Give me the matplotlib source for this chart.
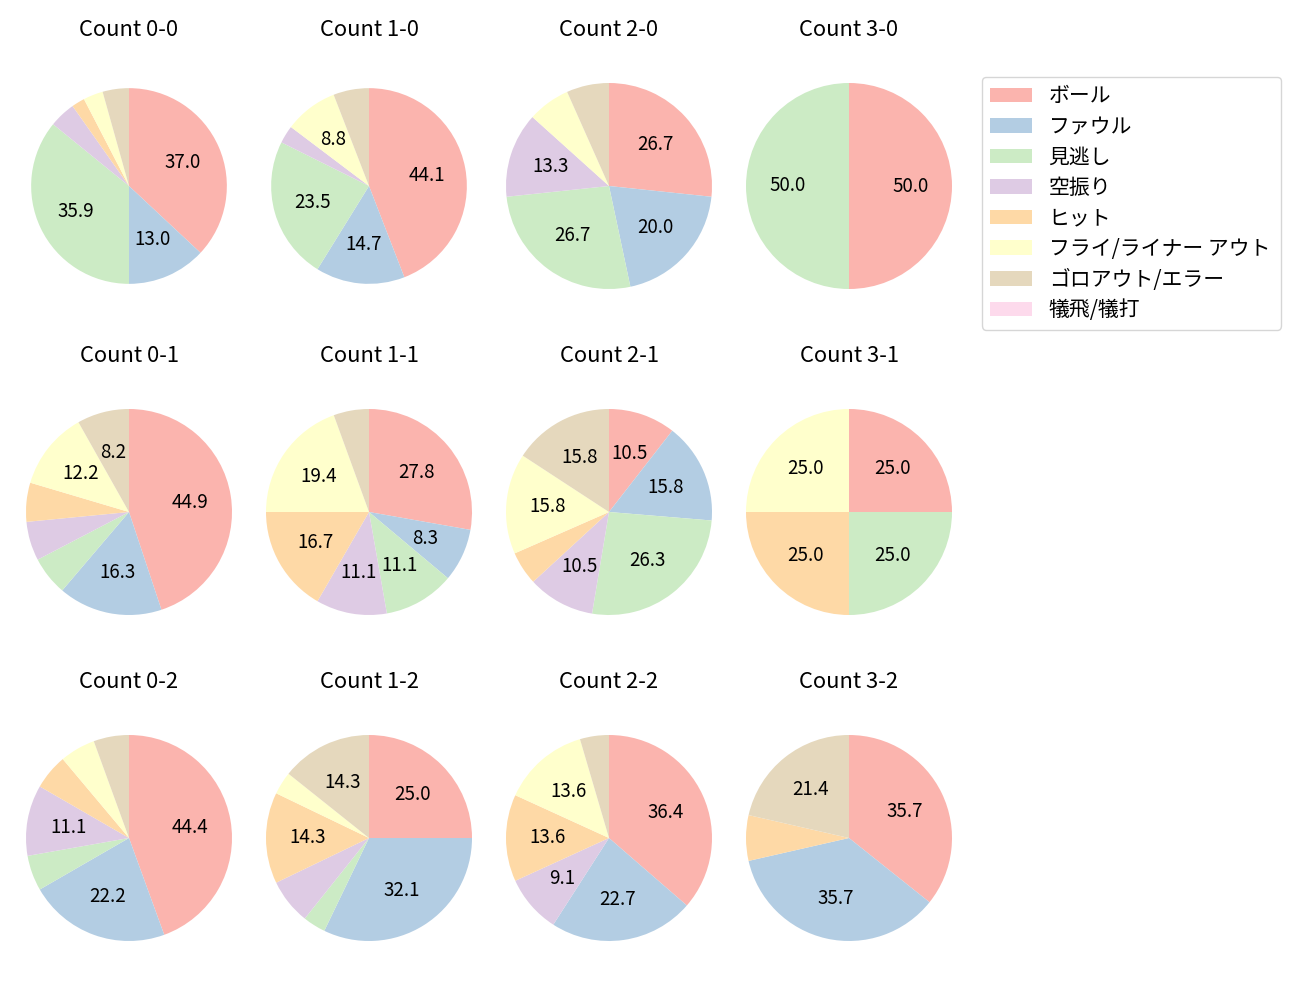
import matplotlib
matplotlib.use("Agg")
import matplotlib.pyplot as plt
from matplotlib.patches import Patch

plt.rcParams['font.family'] = ['Noto Sans CJK JP', 'DejaVu Sans']

categories = ['ボール', 'ファウル', '見逃し', '空振り', 'ヒット',
              'フライ/ライナー アウト', 'ゴロアウト/エラー', '犠飛/犠打']
colors = ['#fbb4ae', '#b3cde3', '#ccebc5', '#decbe4', '#fed9a6',
          '#ffffcc', '#e5d8bd', '#fddaec']

# counts per category (order as categories) for each ball-strike count
count_0_0 = [34, 12, 33, 4, 2, 3, 4, 0]
count_1_0 = [15, 5, 8, 1, 0, 3, 2, 0]
count_2_0 = [4, 3, 4, 2, 0, 1, 1, 0]
count_3_0 = [1, 0, 1, 0, 0, 0, 0, 0]
count_0_1 = [22, 8, 3, 3, 3, 6, 4, 0]
count_1_1 = [10, 3, 4, 4, 6, 7, 2, 0]
count_2_1 = [2, 3, 5, 2, 1, 3, 3, 0]
count_3_1 = [1, 0, 1, 0, 1, 1, 0, 0]
count_0_2 = [8, 4, 1, 2, 1, 1, 1, 0]
count_1_2 = [7, 9, 1, 2, 4, 1, 4, 0]
count_2_2 = [8, 5, 0, 2, 3, 3, 1, 0]
count_3_2 = [5, 5, 0, 0, 1, 0, 3, 0]

titles = ['Count 0-0', 'Count 1-0', 'Count 2-0', 'Count 3-0',
          'Count 0-1', 'Count 1-1', 'Count 2-1', 'Count 3-1',
          'Count 0-2', 'Count 1-2', 'Count 2-2', 'Count 3-2']
data = [count_0_0, count_1_0, count_2_0, count_3_0,
        count_0_1, count_1_1, count_2_1, count_3_1,
        count_0_2, count_1_2, count_2_2, count_3_2]

W, H = 1300, 1000
fig = plt.figure(figsize=(W / 100, H / 100), dpi=100)

col_x = [129, 369, 609, 849]
row_y = [186, 512, 838]
S = 257.5  # axes size in px (radius 103 px at limits +-1.25)


def autopct(p):
    return f'{p:.1f}' if p >= 8 else ''


for i, (title, vals) in enumerate(zip(titles, data)):
    r, c = divmod(i, 4)
    cx, cy = col_x[c], row_y[r]
    ax = fig.add_axes([(cx - S / 2) / W, 1 - (cy + S / 2) / H, S / W, S / H])
    radius = 0.95 if i in (0, 1) else 1.0
    ax.pie(vals, colors=colors, startangle=90, counterclock=False,
           autopct=autopct, pctdistance=0.6, radius=radius,
           textprops={'fontsize': 13.5})
    ax.set_xlim(-1.25, 1.25)
    ax.set_ylim(-1.25, 1.25)
    ax.text(0.5, 0.5 + 156 / S, title, transform=ax.transAxes,
            ha='center', va='center', fontsize=15.8)

handles = [Patch(facecolor=col, label=lab) for col, lab in zip(colors, categories)]
fig.legend(handles=handles, loc='upper left', mode='expand',
           bbox_to_anchor=(982 / W, 1 - 327 / H, 299 / W, 250 / H),
           borderaxespad=0, fontsize=15, labelspacing=0.41,
           handlelength=2.0, handleheight=0.7, handletextpad=0.8)

fig.savefig('out.png', dpi=100)
